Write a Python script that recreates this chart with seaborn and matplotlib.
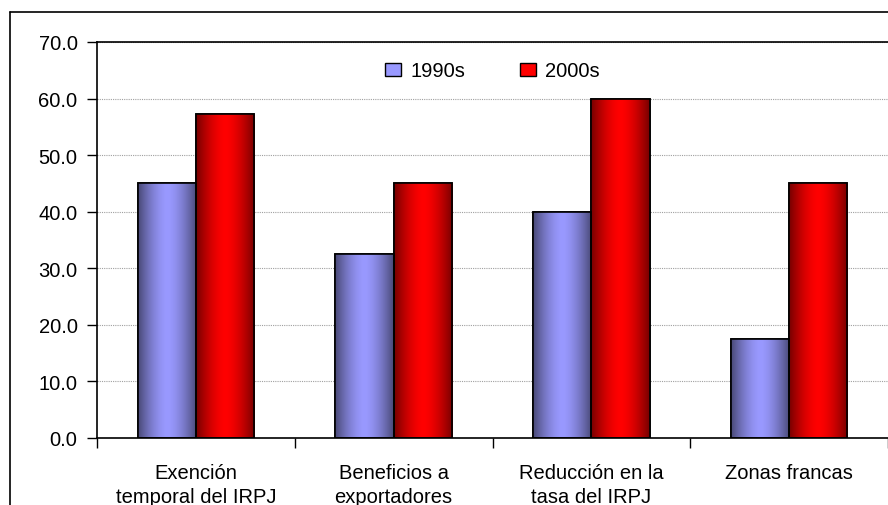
"""
Bar chart: incentive usage by instrument, 1990s vs 2000s
"""

import numpy as np
import pandas as pd
import matplotlib
matplotlib.use("Agg")
import matplotlib.pyplot as plt
from matplotlib.colors import LinearSegmentedColormap
from matplotlib.lines import Line2D
import seaborn as sns

# ── data ─────────────────────────────────────────────────────
CATEGORIES = [
    "Exención\ntemporal del IRPJ",
    "Beneficios a\nexportadores",
    "Reducción en la\ntasa del IRPJ",
    "Zonas francas",
]
SERIES = ["1990s", "2000s"]
VALUES_1990S = [45.0, 32.5, 40.0, 17.5]
VALUES_2000S = [57.3, 45.0, 60.0, 45.0]
Y_TICKS = [0, 10, 20, 30, 40, 50, 60, 70]

# ── style ────────────────────────────────────────────────────
sns.set_style("white")
plt.rcParams["font.family"] = ["Liberation Sans", "DejaVu Sans"]
plt.rcParams.update({
    "font.size": 14.5,
    "text.color": "black",
    "xtick.color": "black",
    "ytick.color": "black",
    "xtick.labelcolor": "black",
    "ytick.labelcolor": "black",
})
FS = 14.5

CENTER = {"1990s": "#9999ff", "2000s": "#ff0000"}
EDGE = {"1990s": "#4a4a78", "2000s": "#780000"}

df = pd.DataFrame({
    "cat": CATEGORIES * 2,
    "serie": [SERIES[0]] * 4 + [SERIES[1]] * 4,
    "val": VALUES_1990S + VALUES_2000S,
})

fig = plt.figure(figsize=(8.88, 5.06), dpi=100)
ax = fig.add_axes([97 / 888, 1 - 439 / 506, 1 - 97 / 888, (439 - 43) / 506])

sns.barplot(data=df, x="cat", y="val", hue="serie", order=CATEGORIES,
            hue_order=SERIES, palette=CENTER, width=0.59, gap=0,
            edgecolor="black", linewidth=1.2, ax=ax, legend=True)

# gradient fill on every bar (dark edges, bright centre)
t = np.linspace(0, 1, 64)
profile = np.clip(1 - np.abs(2 * t - 1) ** 1.6, 0, 1)
grad = profile[np.newaxis, :]
bars = ax.patches[: len(CATEGORIES) * len(SERIES)]
for i, bar in enumerate(bars):
    serie = SERIES[i // len(CATEGORIES)]
    cmap = LinearSegmentedColormap.from_list(serie, [EDGE[serie], CENTER[serie]])
    x0, y0 = bar.get_x(), bar.get_y()
    w, h = bar.get_width(), bar.get_height()
    im = ax.imshow(grad, cmap=cmap, aspect="auto", extent=(x0, x0 + w, y0, y0 + h),
                   zorder=bar.get_zorder() + 0.1, interpolation="bicubic")
    im.set_clip_path(bar)
    edge = plt.Rectangle((x0, y0), w, h, fill=False, edgecolor="black",
                         linewidth=1.2, zorder=bar.get_zorder() + 0.2)
    ax.add_patch(edge)

# axes
ax.set_xlim(-0.5, len(CATEGORIES) - 0.5)
ax.set_ylim(0, 70)
ax.set_yticks(Y_TICKS)
ax.set_yticklabels([f"{v:.1f}" for v in Y_TICKS], fontsize=FS)
ax.yaxis.grid(True, color="#a0a0a0", linestyle=(0, (1, 1)), linewidth=0.8)
ax.set_axisbelow(True)
ax.tick_params(axis="y", length=7, width=1, color="black", pad=7, left=True)

ax.set_xticks(np.arange(-0.5, len(CATEGORIES), 1.0))
ax.set_xticklabels([])
ax.set_xticks(np.arange(len(CATEGORIES)), minor=True)
ax.set_xticklabels(CATEGORIES, minor=True, fontsize=FS, linespacing=1.35)
ax.tick_params(axis="x", which="major", length=7, width=1, color="black", bottom=True)
ax.tick_params(axis="x", which="minor", length=0, pad=18)
ax.set_xlabel("")
ax.set_ylabel("")

for side in ["left", "bottom", "top"]:
    ax.spines[side].set_color("black")
    ax.spines[side].set_linewidth(1.2)
ax.spines["right"].set_visible(False)

# legend
handles = [plt.Rectangle((0, 0), 1, 1, facecolor=CENTER[s], edgecolor="black",
                         linewidth=1.0) for s in SERIES]
ax.legend(handles, SERIES, loc="center", bbox_to_anchor=(0.5, 0.927), ncol=2,
          frameon=False, fontsize=FS, handlelength=0.8, handleheight=0.65,
          handletextpad=0.45, columnspacing=2.75)

# outer chart frame (left and top edges visible)
fig.add_artist(Line2D([10 / 888, 10 / 888], [0, 1 - 13 / 506], color="black",
                      linewidth=1.2, transform=fig.transFigure))
fig.add_artist(Line2D([10 / 888, 1], [1 - 13 / 506, 1 - 13 / 506], color="black",
                      linewidth=1.2, transform=fig.transFigure))

fig.savefig("out.png", dpi=100)
